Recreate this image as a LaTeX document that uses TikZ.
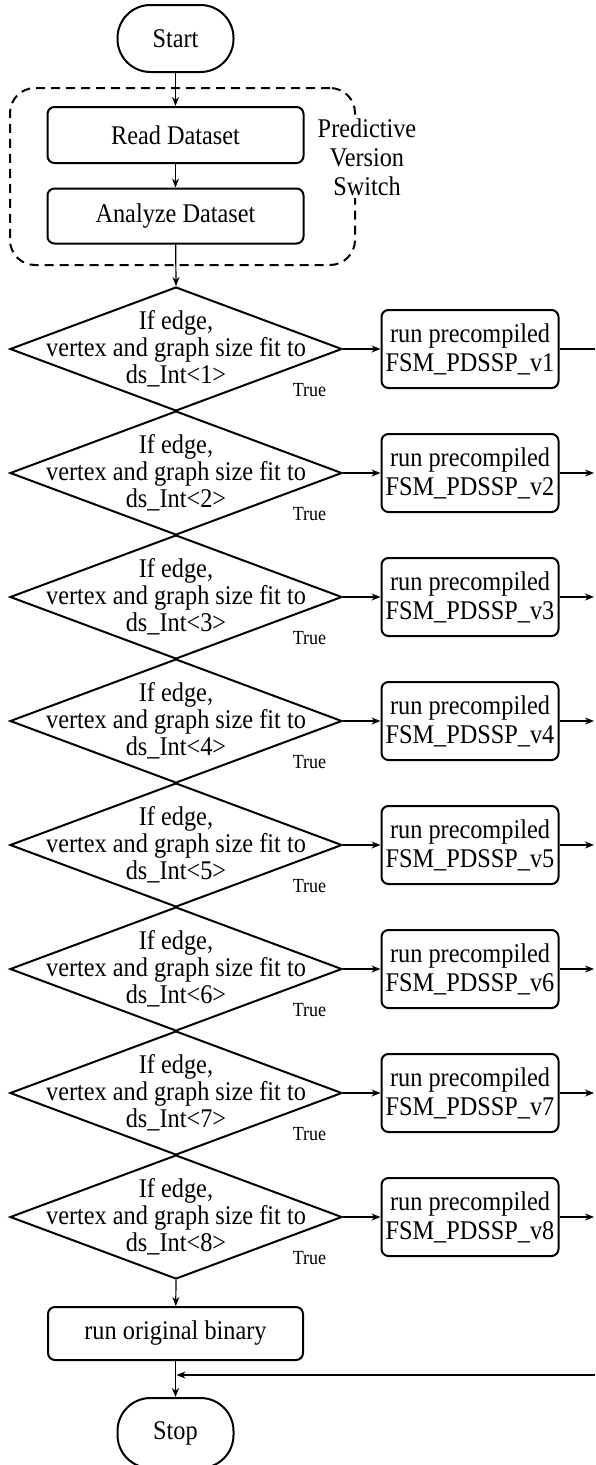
\documentclass[tikz,border=0pt]{standalone}
\usepackage{fontspec}
\setmainfont{Liberation Serif}[FakeStretch=0.9]
\usetikzlibrary{arrows.meta,shapes.geometric}
\begin{document}
\begin{tikzpicture}[x=1pt,y=-1pt,
  every node/.style={font=\fontsize{27}{27}\selectfont, align=center},
  term/.style={draw, line width=2pt, rounded corners=33pt, minimum width=116pt, minimum height=67pt, inner sep=0pt},
  proc/.style={draw, line width=2pt, rounded corners=7pt, inner sep=0pt},
  dec/.style={draw, diamond, line width=2pt, minimum width=332pt, minimum height=124pt, inner sep=0pt},
  dtext/.style={inner sep=0pt},
  truelbl/.style={font=\fontsize{20}{22}\selectfont, inner sep=0pt},
  arr/.style={-{Stealth[length=9pt,width=7pt]}, line width=1.2pt},
  conn/.style={line width=1.2pt},
  grp/.style={draw, line width=2pt, dash pattern=on 9pt off 6pt, rounded corners=25pt, minimum width=345pt, minimum height=177pt, inner sep=0pt}
]
\useasboundingbox (0,0) rectangle (595,1465);
\node[term] (start) at (175.5,38.5) {Start};
\node[grp] (group) at (182.5,176.5) {};
\node[proc, minimum width=256pt, minimum height=56pt] (read) at (175.5,135) {Read Dataset};
\node[proc, minimum width=256pt, minimum height=55pt] (analyze) at (175.5,216) {Analyze Dataset};
\node[fill=white, inner sep=2pt, font=\fontsize{27}{29}\selectfont] (pvs) at (367,157) {Predictive\\Version\\Switch};
\draw[arr] (start) -- (read);
\draw[arr] (read) -- (analyze);
\foreach \i in {1,...,8} {
  \pgfmathsetmacro{\yy}{349+124*(\i-1)}
  \node[dec] (d\i) at (176,\yy) {};
  \node[dtext] (dt\i) at (d\i.center) {If edge,\\vertex and graph size fit to\\ds\_Int<\i>};
  \node[truelbl] (t\i) at (309.5,{\yy+41}) {True};
  \node[proc, minimum width=177pt, minimum height=78pt, font=\fontsize{27}{29}\selectfont] (p\i) at (470,\yy) {run precompiled\\FSM\_PDSSP\_v\i};
  \draw[arr] (d\i.east) -- (p\i.west);
  \coordinate (e\i) at (595,\yy);
  \ifnum\i=1
    \draw[conn] (p\i.east) -- (e\i);
  \else
    \draw[arr] (p\i.east) -- ([xshift=-1pt]e\i);
  \fi
}
\draw[arr] (analyze) -- (d1.north);
\node[proc, minimum width=255pt, minimum height=53pt] (orig) at (175.5,1333.5) {run original binary};
\node[term, minimum height=70pt] (stop) at (175.5,1433) {Stop};
\draw[arr] (d8.south) -- (orig);
\draw[arr] (orig) -- (stop);
\coordinate (eb) at (595,1375);
\coordinate (jn) at (175.5,1375);
\draw[arr] (eb) -- ([xshift=1pt]jn);
\end{tikzpicture}
\end{document}
